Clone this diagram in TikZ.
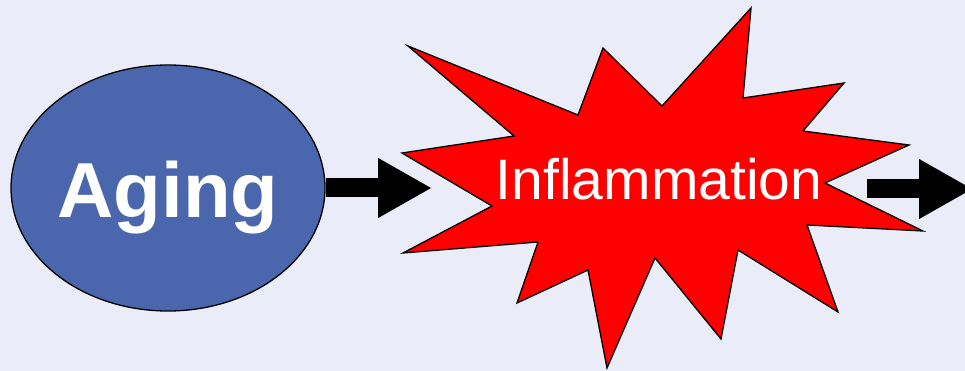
\documentclass[tikz,border=0pt]{standalone}
\usepackage{fontspec}
\setmainfont{Liberation Sans}
\usepackage{tikz}
\usetikzlibrary{arrows.meta,shapes.geometric}
\definecolor{bgblue}{RGB}{234,237,248}
\definecolor{agingblue}{RGB}{74,102,172}

\begin{document}
\begin{tikzpicture}[x=1pt,y=-1pt,
    agingshape/.style={ellipse, draw=black, line width=1.3pt, fill=agingblue,
      minimum width=314pt, minimum height=246pt, inner sep=0pt,
      text=white, font=\fontsize{78}{78}\selectfont\bfseries,
      text height=60pt, text depth=0pt},
    burst/.style={draw=black, line width=1.3pt, fill=red, line join=miter},
    bursttext/.style={text=white, font=\fontsize{57}{57}\selectfont, inner sep=0pt},
    blockarrow/.style={line width=19pt, -{Triangle[length=54pt,width=56pt]}}]
  % Background
  \useasboundingbox (0,0) rectangle (965,371);
  \clip (0,0) rectangle (965,371);
  \fill[bgblue] (0,0) rectangle (965,371);
  % Aging ellipse
  \node[agingshape] (aging) at (168,188) {Aging};
  % Inflammation burst
  \draw[burst] (408,46) -- (578,115) -- (603,48) -- (662,106) -- (751,8)
    -- (743,98) -- (844,83) -- (803,131) -- (909,145) -- (825,183)
    -- (923,231) -- (807,225) -- (838,312) -- (738,250) -- (721,339)
    -- (655,258) -- (607,368) -- (588,270) -- (517,303) -- (538,242)
    -- (403,253) -- (492,206) -- (402,153) -- (514,136) -- cycle;
  \node[bursttext, anchor=base] (inflam) at (659,200) {Inflammation};
  % Arrows
  \coordinate (burstin) at (432,188);
  \coordinate (burstout) at (867,189);
  \coordinate (exit) at (973,189);
  \draw[blockarrow] (aging.east) -- (burstin);
  \draw[blockarrow] (burstout) -- (exit);
\end{tikzpicture}
\end{document}
